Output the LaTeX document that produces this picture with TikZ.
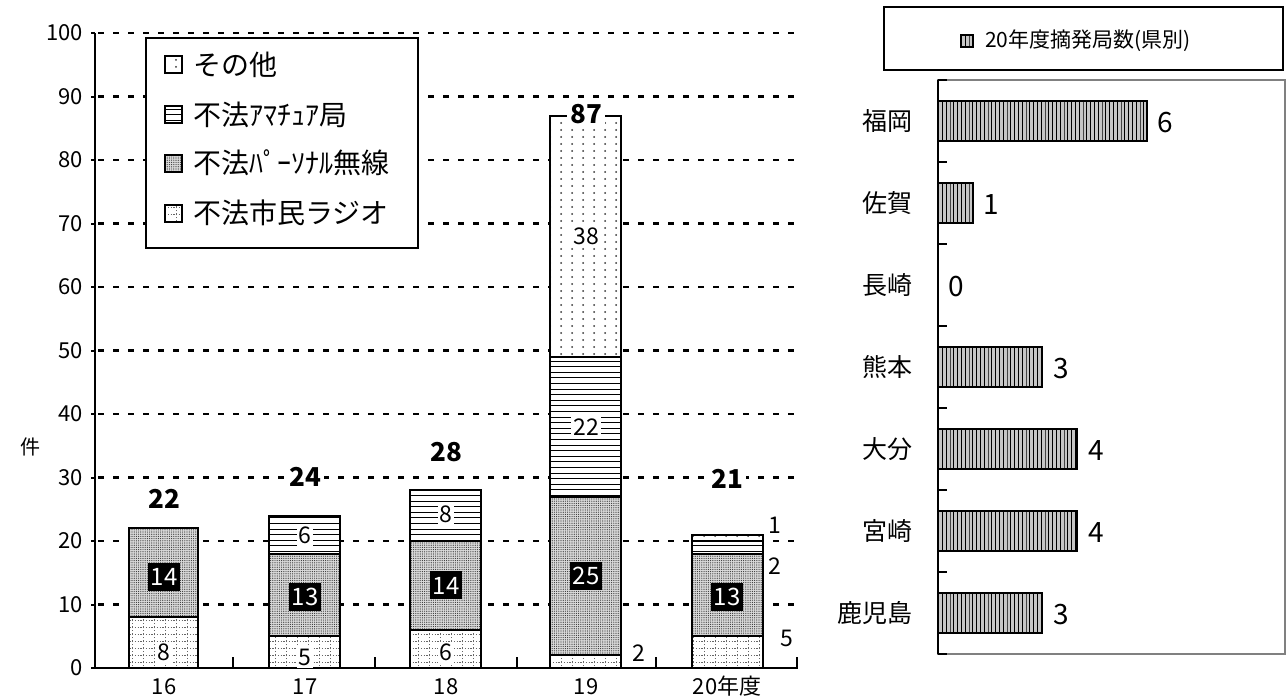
\documentclass[tikz,border=0pt]{standalone}
\usepackage{fontspec}
\setmainfont{Noto Sans CJK JP}
\usepackage{tikz}
\usetikzlibrary{patterns}

% fill patterns of the bars
\pgfdeclarepatternformonly{sparsedots}{\pgfqpoint{-0.6pt}{-0.6pt}}{\pgfqpoint{0.6pt}{0.6pt}}{\pgfqpoint{5.5pt}{3.5pt}}%
  {\pgfpathcircle{\pgfqpoint{0pt}{0pt}}{0.5pt}\pgfusepath{fill}}
\pgfdeclarepatternformonly{finedots}{\pgfqpoint{-0.3pt}{-0.3pt}}{\pgfqpoint{0.3pt}{0.3pt}}{\pgfqpoint{1.1pt}{1.1pt}}%
  {\pgfpathcircle{\pgfqpoint{0pt}{0pt}}{0.3pt}\pgfusepath{fill}}
\pgfdeclarepatternformonly{hlines}{\pgfqpoint{-0.1pt}{-0.3pt}}{\pgfqpoint{3.1pt}{0.3pt}}{\pgfqpoint{3pt}{2.8pt}}%
  {\pgfsetlinewidth{0.45pt}\pgfpathmoveto{\pgfqpoint{-0.1pt}{0pt}}\pgfpathlineto{\pgfqpoint{3.1pt}{0pt}}\pgfusepath{stroke}}
\pgfdeclarepatternformonly{vlines}{\pgfqpoint{-0.3pt}{-0.1pt}}{\pgfqpoint{0.3pt}{3.1pt}}{\pgfqpoint{1.9pt}{3pt}}%
  {\pgfsetlinewidth{0.5pt}\pgfpathmoveto{\pgfqpoint{0pt}{-0.1pt}}\pgfpathlineto{\pgfqpoint{0pt}{3.1pt}}\pgfusepath{stroke}}
\pgfdeclarepatternformonly{cbgrid}{\pgfqpoint{-0.2pt}{-0.2pt}}{\pgfqpoint{5.6pt}{3.6pt}}{\pgfqpoint{5.5pt}{3.5pt}}%
  {\pgfsetlinewidth{0.3pt}\pgfsetdash{{0.7pt}{0.7pt}}{0pt}%
   \pgfpathmoveto{\pgfqpoint{0pt}{0pt}}\pgfpathlineto{\pgfqpoint{5.5pt}{0pt}}%
   \pgfpathmoveto{\pgfqpoint{0pt}{0pt}}\pgfpathlineto{\pgfqpoint{0pt}{3.5pt}}\pgfusepath{stroke}}

\begin{document}
\begin{tikzpicture}[x=0.5pt,y=-0.5pt,
  gridline/.style={line width=1.3pt, dash pattern=on 3pt off 4.5pt},
  axisline/.style={line width=1pt},
  segbox/.style={draw, line width=1pt},
  other/.style={segbox, pattern=sparsedots, pattern color=gray!40!black, preaction={fill=white}},
  amateur/.style={segbox, pattern=hlines, pattern color=black, preaction={fill=white}},
  personal/.style={segbox, pattern=finedots, pattern color=gray!40!black, preaction={fill=gray!30}},
  cb/.style={segbox, pattern=cbgrid, pattern color=gray!80!black, preaction={fill=white}},
  prefbar/.style={draw, line width=0.8pt, pattern=vlines, pattern color=black, preaction={fill=gray!45}},
  ticklbl/.style={font=\fontsize{11}{12}\selectfont},
  total/.style={font=\fontsize{13}{14}\selectfont\bfseries, fill=white, inner sep=1.5pt},
  inlbl/.style={font=\fontsize{11.5}{12}\selectfont, fill=white, inner sep=1pt},
  blklbl/.style={font=\fontsize{12}{13}\selectfont, fill=black, text=white, inner sep=1.2pt, minimum height=14pt},
  outlbl/.style={font=\fontsize{11.5}{12}\selectfont},
  legtext/.style={font=\fontsize{14}{15}\selectfont, anchor=west},
  prefname/.style={font=\fontsize{12.5}{13}\selectfont, anchor=east},
  prefval/.style={font=\fontsize{14}{15}\selectfont, anchor=west}]
\useasboundingbox (0,0) rectangle (1288,697);

% left chart, y in counts
\begin{scope}[shift={(0,668)}, yscale=-6.35]
\foreach \v in {0,10,...,100}{
  \draw[gridline] (98,\v) -- (798,\v);
  \draw[axisline] (91,\v) -- (95,\v);
  \node[ticklbl, anchor=east] (ylab\v) at (90,\v) {\v};
}
\draw[axisline] (95,0) -- (95,100);
\draw[axisline] (95,0) -- (798,0);
\foreach \x in {233,375,517,656,797} \draw[axisline] (\x,0) -- (\x,1.7);

\draw[cb] (129,0) rectangle (198,8);
\draw[personal] (129,8) rectangle (198,22);

\draw[cb] (269,0) rectangle (340,5);
\draw[personal] (269,5) rectangle (340,18);
\draw[amateur] (269,18) rectangle (340,24);

\draw[cb] (410,0) rectangle (481,6);
\draw[personal] (410,6) rectangle (481,20);
\draw[amateur] (410,20) rectangle (481,28);

\draw[cb] (550,0) rectangle (621,2);
\draw[personal] (550,2) rectangle (621,27);
\draw[amateur] (550,27) rectangle (621,49);
\draw[other] (550,49) rectangle (621,87);

\draw[cb] (692,0) rectangle (763,5);
\draw[personal] (692,5) rectangle (763,18);
\draw[amateur] (692,18) rectangle (763,20);
\draw[other] (692,20) rectangle (763,21);

\node[inlbl] (cb16) at (164,2.4) {8};
\node[blklbl] (ps16) at (164,14.3) {14};
\node[total] (tot16) at (164,26.6) {22};

\node[inlbl] (cb17) at (305,1.7) {5};
\node[blklbl] (ps17) at (305,11.2) {13};
\node[inlbl] (am17) at (305,20.9) {6};
\node[total] (tot17) at (305,30.1) {24};

\node[inlbl] (cb18) at (446,2.4) {6};
\node[blklbl] (ps18) at (446,13) {14};
\node[inlbl] (am18) at (446,24.2) {8};
\node[total] (tot18) at (446,34) {28};

\node[outlbl] (cb19) at (639,2.4) {2};
\node[blklbl] (ps19) at (586,14.5) {25};
\node[inlbl] (am19) at (586,38) {22};
\node[inlbl] (ot19) at (586,68) {38};
\node[total] (tot19) at (586,87.2) {87};

\node[outlbl] (cb20) at (787,4.7) {5};
\node[blklbl] (ps20) at (727,11.2) {13};
\node[outlbl] (am20) at (775,16) {2};
\node[outlbl] (ot20) at (775,22.5) {1};
\node[total] (tot20) at (727,29.8) {21};

\node[ticklbl] (xlab16) at (164,-2.9) {16};
\node[ticklbl] (xlab17) at (305,-2.9) {17};
\node[ticklbl] (xlab18) at (446,-2.9) {18};
\node[ticklbl] (xlab19) at (586,-2.9) {19};
\node[ticklbl] (xlab20) at (727,-2.9) {20年度};
\end{scope}

\node[font=\fontsize{10}{11}\selectfont] (unit) at (30,447) {件};

% legend of the left chart
\filldraw[fill=white, line width=1pt] (146,38) rectangle (418,248);
\draw[other] (165,56) rectangle (182,73);
\node[legtext] (legot) at (186,65) {その他};
\draw[amateur] (165,106) rectangle (182,123);
\node[legtext] (legam) at (186,115) {不法ｱﾏﾁｭｱ局};
\draw[personal] (165,155) rectangle (182,172);
\node[legtext] (legps) at (186,163) {不法ﾊﾟｰｿﾅﾙ無線};
\draw[cb] (165,205) rectangle (182,222);
\node[legtext] (legcb) at (186,213) {不法市民ラジオ};

% right chart
\draw[line width=0.8pt] (884,7) rectangle (1283,70);
\draw[prefbar] (961,35) rectangle (973,47);
\node[anchor=west, font=\fontsize{10.5}{11}\selectfont] (rleg) at (978,41) {20年度摘発局数(県別)};

\draw[gray, line width=0.8pt] (938,80) rectangle (1285,654);
\draw[axisline] (938,80) -- (938,654);
\foreach \y in {80,162,...,654} \draw[axisline] (938,\y) -- (947,\y);

\draw[prefbar] (938,101) rectangle (1146.8,141);
\draw[prefbar] (938,183) rectangle (972.8,223);
\draw[prefbar] (938,347) rectangle (1042.4,387);
\draw[prefbar] (938,429) rectangle (1077.2,469);
\draw[prefbar] (938,511) rectangle (1077.2,551);
\draw[prefbar] (938,593) rectangle (1042.4,633);

\node[prefname] (fukuoka) at (920,121) {福岡};
\node[prefname] (saga) at (920,203) {佐賀};
\node[prefname] (nagasaki) at (920,285) {長崎};
\node[prefname] (kumamoto) at (920,367) {熊本};
\node[prefname] (oita) at (920,449) {大分};
\node[prefname] (miyazaki) at (920,531) {宮崎};
\node[prefname] (kagoshima) at (920,613) {鹿児島};

\node[prefval] (vfukuoka) at (1150,123) {6};
\node[prefval] (vsaga) at (976,205) {1};
\node[prefval] (vnagasaki) at (941,287) {0};
\node[prefval] (vkumamoto) at (1046,369) {3};
\node[prefval] (voita) at (1081,451) {4};
\node[prefval] (vmiyazaki) at (1081,533) {4};
\node[prefval] (vkagoshima) at (1046,615) {3};
\end{tikzpicture}
\end{document}
